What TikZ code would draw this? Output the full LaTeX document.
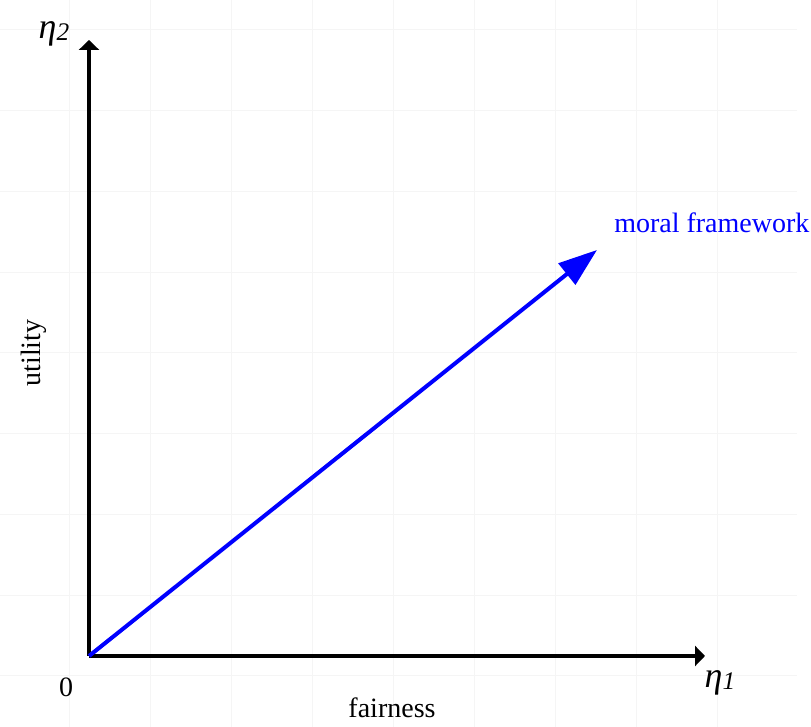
\documentclass[tikz,border=0pt]{standalone}
\usepackage{fontspec}
\setmainfont{Liberation Serif}
\usetikzlibrary{arrows.meta,positioning}
\definecolor{gridcol}{RGB}{245,245,245}
\definecolor{vecblue}{RGB}{0,0,255}

\begin{document}
\begin{tikzpicture}[
  x=0.75pt, y=0.75pt,
  gridline/.style={draw=gridcol, line width=0.75pt},
  axis/.style={line width=3pt, -{Triangle[length=7.5pt,width=15pt]}},
  vec/.style={line width=3pt, draw=vecblue,
              -{Triangle[length=29pt,width=20pt]}},
  lbl/.style={font=\fontsize{21}{25}\selectfont, inner sep=0pt},
  etalbl/.style={font=\fontsize{27}{30}\selectfont\itshape, inner sep=0pt},
  >=Stealth
]
\useasboundingbox (0,0) rectangle (811,727);

%% Faint grid
\foreach \gx in {0,...,8}
  \draw[gridline] ({69+81*\gx},0) -- ({69+81*\gx},727);
\foreach \gy in {0,...,8}
  \draw[gridline] (0,{51+80.75*\gy}) -- (797,{51+80.75*\gy});

%% Axes
\coordinate (orig) at (89,71);
\coordinate (ytip) at (89,687);
\coordinate (xtip) at (705,71);
\coordinate (mftip) at (597,477);
\draw[axis] (orig) -- (ytip);
\draw[axis] (orig) -- (xtip);

%% Moral framework vector
\draw[vec] (orig) -- (mftip);

%% Labels
\node[etalbl] (eta2) at (54,693) {η\raisebox{-0.1ex}{\fontsize{19}{21}\selectfont 2}};
\node[etalbl] (eta1) at (720,44) {η\raisebox{-0.1ex}{\fontsize{19}{21}\selectfont 1}};
\node[lbl] (zero) at (66,40) {0};
\node[lbl] (fair) at (392,19) {fairness};
\node[lbl, rotate=90] (util) at (34,374) {utility};
\node[lbl, text=vecblue, anchor=west] (mf) at (614,504) {moral framework};

\end{tikzpicture}
\end{document}
